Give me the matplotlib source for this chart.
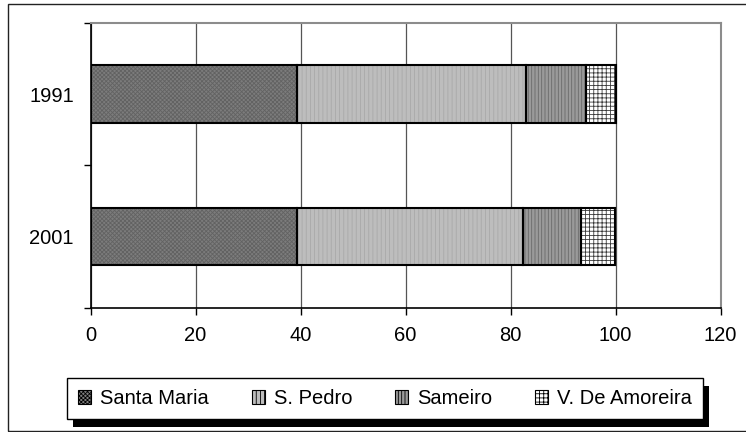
import matplotlib
matplotlib.use("Agg")
import matplotlib.pyplot as plt
from matplotlib.patches import Patch, Rectangle
import numpy as np

# Population share by parish (%)
years = ["1991", "2001"]
parishes = ["Santa Maria", "S. Pedro", "Sameiro", "V. De Amoreira"]
santa_maria = [39.3, 39.4]
s_pedro = [43.7, 42.9]
sameiro = [11.3, 11.1]
v_amoreira = [5.7, 6.6]
x_ticks = [0, 20, 40, 60, 80, 100, 120]

series = [santa_maria, s_pedro, sameiro, v_amoreira]
styles = [
    dict(face="#7c7c7c", hatch="xxxxxxxx", hcolor="#626262"),
    dict(face="#bdbdbd", hatch="||||", hcolor="#a9a9a9"),
    dict(face="#9a9a9a", hatch="|||||", hcolor="#6a6a6a"),
    dict(face="#ffffff", hatch="++++", hcolor="#3a3a3a"),
]

plt.rcParams["font.family"] = ["Liberation Sans", "DejaVu Sans"]
plt.rcParams["hatch.linewidth"] = 0.6

W, H = 746, 432
fig = plt.figure(figsize=(W / 100, H / 100), dpi=100)
ax = fig.add_axes([90.5 / W, 1 - 308 / H, (720.5 - 90.5) / W, (308 - 22.7) / H])

ypos = np.arange(len(years))
left = np.zeros(len(years))
bar_h = 0.4
for vals, st in zip(series, styles):
    ax.barh(ypos, vals, height=bar_h, left=left, color=st["face"],
            hatch=st["hatch"], edgecolor=st["hcolor"], linewidth=0, zorder=3)
    ax.barh(ypos, vals, height=bar_h, left=left, color="none",
            edgecolor="black", linewidth=1.5, zorder=4)
    left = left + np.array(vals)

ax.set_xlim(0, 120)
ax.set_ylim(1.5, -0.5)
ax.set_xticks(x_ticks)
ax.set_xticklabels([str(t) for t in x_ticks])
ax.tick_params(axis="x", direction="out", length=5, width=1, pad=8, labelsize=14.5)
ax.grid(axis="x", color="#555555", linewidth=0.9, zorder=0)

ax.set_yticks([-0.5, 0.5, 1.5])
ax.set_yticklabels([])
ax.tick_params(axis="y", which="major", direction="out", length=5, width=1)
ax.set_yticks(ypos, minor=True)
ax.set_yticklabels(years, minor=True)
ax.tick_params(axis="y", which="minor", length=0, pad=12, labelsize=14.5)

for side in ("left", "bottom"):
    ax.spines[side].set_color("black")
    ax.spines[side].set_linewidth(1.2)
for side in ("top", "right"):
    ax.spines[side].set_color("#8c8c8c")
    ax.spines[side].set_linewidth(1.5)

# Legend with a hard black drop shadow
handles = [Patch(facecolor=st["face"], hatch=st["hatch"], edgecolor="black",
                 linewidth=0.8, label=name)
           for st, name in zip(styles, parishes)]
lx0, ly0, lx1, ly1 = 67, 378, 703, 419
leg = fig.legend(handles=handles, loc="lower left", ncol=4, mode="expand",
                 bbox_to_anchor=(lx0 / W, 1 - ly1 / H, (lx1 - lx0) / W, (ly1 - ly0) / H),
                 borderaxespad=0, fancybox=False, frameon=True, framealpha=1,
                 fontsize=14.5, handlelength=0.65, handleheight=0.65,
                 handletextpad=0.45, borderpad=0.55, columnspacing=1.0)
leg.get_frame().set_edgecolor("black")
leg.get_frame().set_facecolor("white")
leg.get_frame().set_linewidth(1.0)
leg.set_zorder(5)
fig.patches.append(Rectangle(((lx0 + 6) / W, 1 - (ly1 + 8) / H), (lx1 - lx0) / W, (ly1 - ly0) / H,
                             transform=fig.transFigure, facecolor="black",
                             edgecolor="none", zorder=4))

# Chart area border
fig.patches.append(Rectangle((8 / W, 1 - 431 / H), (760 - 8) / W, (431 - 4) / H,
                             transform=fig.transFigure, facecolor="none",
                             edgecolor="#222222", linewidth=1.0, zorder=1))

fig.savefig("out.png", dpi=100)
